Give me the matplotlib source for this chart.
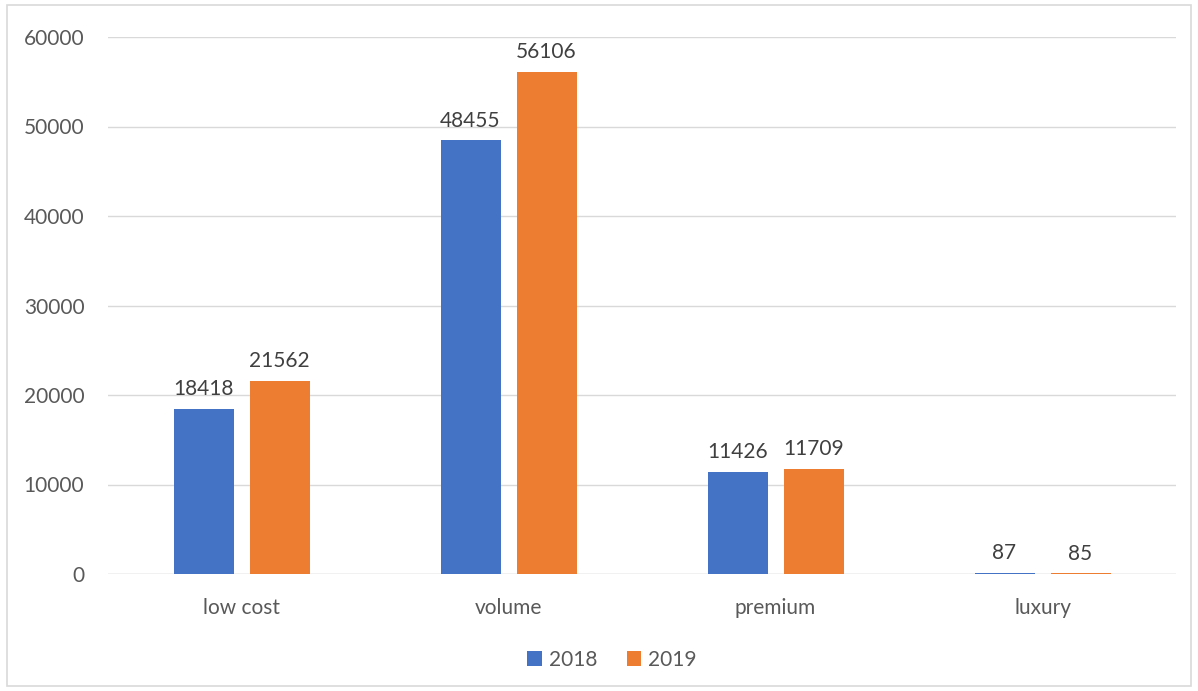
import matplotlib
matplotlib.use("Agg")
import matplotlib.pyplot as plt
import numpy as np
from matplotlib.patches import Rectangle

categories = ["low cost", "volume", "premium", "luxury"]
series_names = ["2018", "2019"]
values_2018 = [18418, 48455, 11426, 87]
values_2019 = [21562, 56106, 11709, 85]
yticks = [0, 10000, 20000, 30000, 40000, 50000, 60000]

colors = ["#4472C4", "#ED7D31"]
text_color = "#595959"
plt.rcParams['font.family'] = ['Lato', 'DejaVu Sans']

W, H = 1198, 691
fig = plt.figure(figsize=(W/100, H/100), dpi=100)
fig.patches.append(Rectangle((7/W, 1-686/H), (1191-7)/W, (686-5)/H, transform=fig.transFigure,
                             fill=False, edgecolor="#D9D9D9", linewidth=1.2))

ax = fig.add_axes([108/W, 1-574/H, (1176-108)/W, (574-37)/H])
x = np.arange(len(categories))
bw = 60/267
off = 38/267
b1 = ax.bar(x - off, values_2018, bw, color=colors[0], label=series_names[0], zorder=3)
b2 = ax.bar(x + off, values_2019, bw, color=colors[1], label=series_names[1], zorder=3)
for bars in (b1, b2):
    ax.bar_label(bars, labels=[str(v) for v in bars.datavalues], padding=7, fontsize=15, color="#404040")

ax.set_xlim(-0.5, 3.5)
ax.set_ylim(0, 60000)
ax.set_yticks(yticks)
ax.set_yticklabels([str(t) for t in yticks])
ax.set_xticks(x)
ax.set_xticklabels(categories)
ax.tick_params(axis='both', length=0, labelsize=15, labelcolor=text_color)
ax.tick_params(axis='y', pad=17)
ax.tick_params(axis='x', pad=17)
ax.grid(axis='y', color="#D9D9D9", linewidth=1, zorder=0)
for s in ax.spines.values():
    s.set_visible(False)
ax.axhline(0, color="#D9D9D9", linewidth=1, zorder=1)

leg = fig.legend(loc='center', bbox_to_anchor=(612/W, 1-660/H), ncol=2, frameon=False,
                 fontsize=15, handlelength=0.7, handleheight=0.7, handletextpad=0.35, columnspacing=1.4)
for t in leg.get_texts():
    t.set_color(text_color)

fig.savefig("out.png", dpi=100)
